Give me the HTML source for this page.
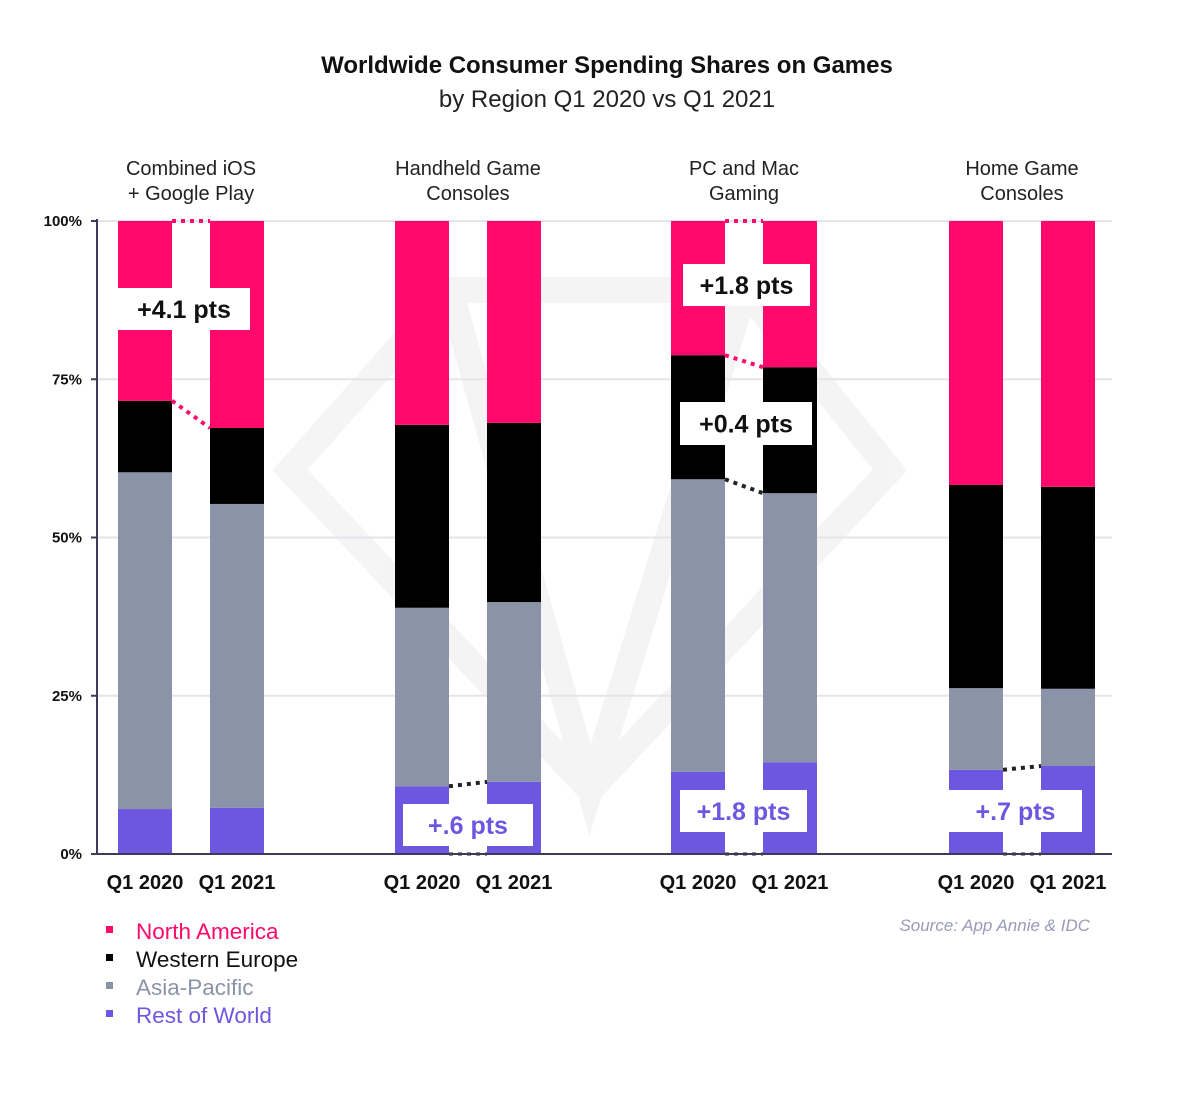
<!DOCTYPE html>
<html><head><meta charset="utf-8"><style>
body{margin:0;background:#fff;font-family:"Liberation Sans",sans-serif}
svg text{font-family:"Liberation Sans",sans-serif}
</style></head><body>
<svg id="c" width="1200" height="1110" viewBox="0 0 1200 1110">
<text x="607" y="73" text-anchor="middle" font-size="24" font-weight="bold" fill="#111">Worldwide Consumer Spending Shares on Games</text>
<text x="607" y="107" text-anchor="middle" font-size="24" fill="#222">by Region Q1 2020 vs Q1 2021</text>
<g opacity="0.04" stroke="#000" stroke-width="26" fill="none">
<polygon points="290,470 450,290 745,290 890,470 590,790"/>
<polyline points="450,290 590,790 745,290"/>
</g>
<g id="grid"></g>
<g id="bars"></g>
<g id="anno"></g>
<g id="axes"></g>
<g font-size="22.5">
<rect x="106" y="926" width="7" height="7" fill="#ff0a6c"/><text x="136" y="939" fill="#ff0a6c">North America</text>
<rect x="106" y="954" width="7" height="7" fill="#000"/><text x="136" y="967" fill="#111">Western Europe</text>
<rect x="106" y="982" width="7" height="7" fill="#8a93a8"/><text x="136" y="995" fill="#8a93a8">Asia-Pacific</text>
<rect x="106" y="1010" width="7" height="7" fill="#6e57e0"/><text x="136" y="1023" fill="#6e57e0">Rest of World</text>
</g>
<text x="1090" y="931" text-anchor="end" font-size="17" font-style="italic" fill="#9a9ab8">Source: App Annie &amp; IDC</text>
</svg>
<script>
const groups=["Combined iOS|+ Google Play","Handheld Game|Consoles","PC and Mac|Gaming","Home Game|Consoles"];
const periods=["Q1 2020","Q1 2021"];
const restOfWorld=[7.1,7.3,10.7,11.4,13.0,14.5,13.3,13.9];
const asiaPacific=[53.2,48.0,28.2,28.4,46.2,42.5,12.9,12.2];
const westernEurope=[11.3,12.0,28.9,28.3,19.6,19.9,32.1,31.9];
const northAmerica=[28.4,32.7,32.2,31.9,21.2,23.1,41.7,42.0];
const yTicks=[0,25,50,75,100];
const colors=["#6e57e0","#8a93a8","#000000","#ff0a6c"];
const NS="http://www.w3.org/2000/svg";
const y0=854,y1=221,xL=97,xR=1112;
const y=v=>y0-(y0-y1)*v/100;
const groupX=[118,395,671,949],barW=54,gap=92;
const bx=i=>groupX[Math.floor(i/2)]+(i%2)*gap;
function el(t,a,p){const e=document.createElementNS(NS,t);for(const k in a)e.setAttribute(k,a[k]);document.getElementById(p).appendChild(e);return e;}
yTicks.forEach(t=>{
 if(t>0){const g=el('line',{x1:xL,x2:xR,y1:y(t),y2:y(t),stroke:'#e4e4ea','stroke-width':2},'grid');
 
 }
 const lb=el('text',{x:82,y:y(t)+5,'text-anchor':'end','font-size':15,'font-weight':'bold',fill:'#111'},'axes');
 lb.textContent=t+'%';
 
 
 const tk=el('line',{x1:xL-6,x2:xL,y1:y(t),y2:y(t),stroke:'#3d3a5a','stroke-width':2},'axes');
 
 
});
const series=[restOfWorld,asiaPacific,westernEurope,northAmerica];
const sNames=["rest-of-world","asia-pacific","western-europe","north-america"];
const tops=[];
for(let i=0;i<8;i++){
 let acc=0;tops[i]=[];
 series.forEach((s,k)=>{
  const r=el('rect',{x:bx(i),y:y(acc+s[i]),width:barW,height:y(acc)-y(acc+s[i]),fill:colors[k]},'bars');
  
  
  acc+=s[i];tops[i][k]=acc;
 });
}
const ax=el('line',{x1:xL,x2:xL,y1:y1-2,y2:y0,stroke:'#3d3a5a','stroke-width':2},'axes');


const xa=el('line',{x1:xL,x2:xR,y1:y0,y2:y0,stroke:'#3d3a5a','stroke-width':2},'axes');


for(let i=0;i<8;i++){
 const lb=el('text',{x:bx(i)+barW/2,y:889,'text-anchor':'middle','font-size':20,'font-weight':'bold',fill:'#111'},'axes');
 lb.textContent=periods[i%2];
 
 
}
groups.forEach((g,j)=>{
 const cx=groupX[j]+(gap+barW)/2;
 g.split('|').forEach((ln,k)=>{
  const t=el('text',{x:cx,y:175+k*25,'text-anchor':'middle','font-size':20,fill:'#222'},'axes');
  t.textContent=ln;
  
  
 });
});
function dots(i,k,col){
 const a=el('line',{x1:bx(i)+barW,x2:bx(i+1),y1:y(tops[i][k]),y2:y(tops[i+1][k]),stroke:col,'stroke-width':4,'stroke-dasharray':'4 5'},'anno');
 
 
}
function box(x,yy,w,h,txt,col){
 const r=el('rect',{x:x,y:yy,width:w,height:h,fill:'#fff'},'anno');
 
 
 const t=el('text',{x:x+w/2,y:yy+h/2+9,'text-anchor':'middle','font-size':25,'font-weight':'bold',fill:col},'anno');
 t.textContent=txt;
 
 
}
dots(0,3,'#ff0a6c');dots(0,2,'#ff0a6c');
dots(4,3,'#ff0a6c');dots(4,2,'#ff0a6c');dots(4,1,'#222');
dots(2,0,'#222');dots(6,0,'#222');
[2,4,6].forEach(i=>{const a=el('line',{x1:bx(i)+barW,x2:bx(i+1),y1:y0,y2:y0,stroke:'#222','stroke-width':3,'stroke-dasharray':'4 5'},'anno');
 
 });
box(118,288,132,42,'+4.1 pts','#111');
box(683,264,127,42,'+1.8 pts','#111');
box(680,402,132,43,'+0.4 pts','#111');
box(403,804,130,42,'+.6 pts','#6e57e0');
box(680,790,127,42,'+1.8 pts','#6e57e0');
box(949,790,133,42,'+.7 pts','#6e57e0');
</script>
</body></html>
